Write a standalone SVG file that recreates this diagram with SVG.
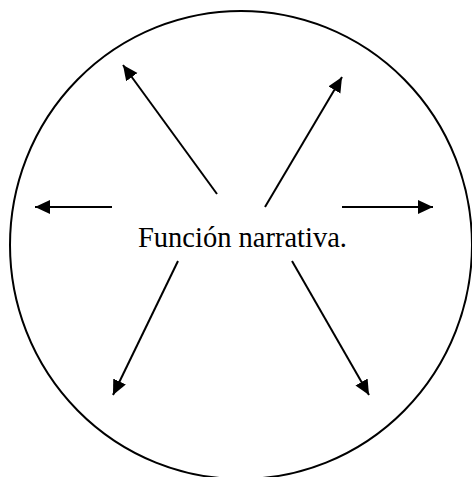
<svg xmlns="http://www.w3.org/2000/svg" width="472" height="477" viewBox="0 0 472 477">
<style>
.c{fill:none;stroke:#000;stroke-width:2}
.a{stroke:#000;stroke-width:2;fill:none;marker-end:url(#ah)}
.t{font-size:28.5px;fill:#000}
</style>
<defs>
<marker id="ah" markerUnits="userSpaceOnUse" markerWidth="16" markerHeight="15" refX="15" refY="7" orient="auto">
<path d="M0,0 L15,7 L0,14 z" fill="#000"/>
</marker>
</defs>
<rect width="472" height="477" fill="#fff"/>
<g id="circle"><ellipse class="c" cx="241" cy="245" rx="231" ry="234"/></g>
<g id="label"><text class="t" font-family="'Liberation Serif', 'DejaVu Serif', serif" x="138" y="247">Función narrativa.</text></g>
<g id="connectors">
<line class="a" x1="112" y1="207" x2="35" y2="207"/>
<line class="a" x1="342" y1="207" x2="433" y2="207"/>
<line class="a" x1="217" y1="194" x2="123" y2="65"/>
<line class="a" x1="265" y1="207" x2="342" y2="77"/>
<line class="a" x1="178" y1="261" x2="113" y2="395"/>
<line class="a" x1="292" y1="261" x2="369" y2="395"/>
</g>
</svg>
